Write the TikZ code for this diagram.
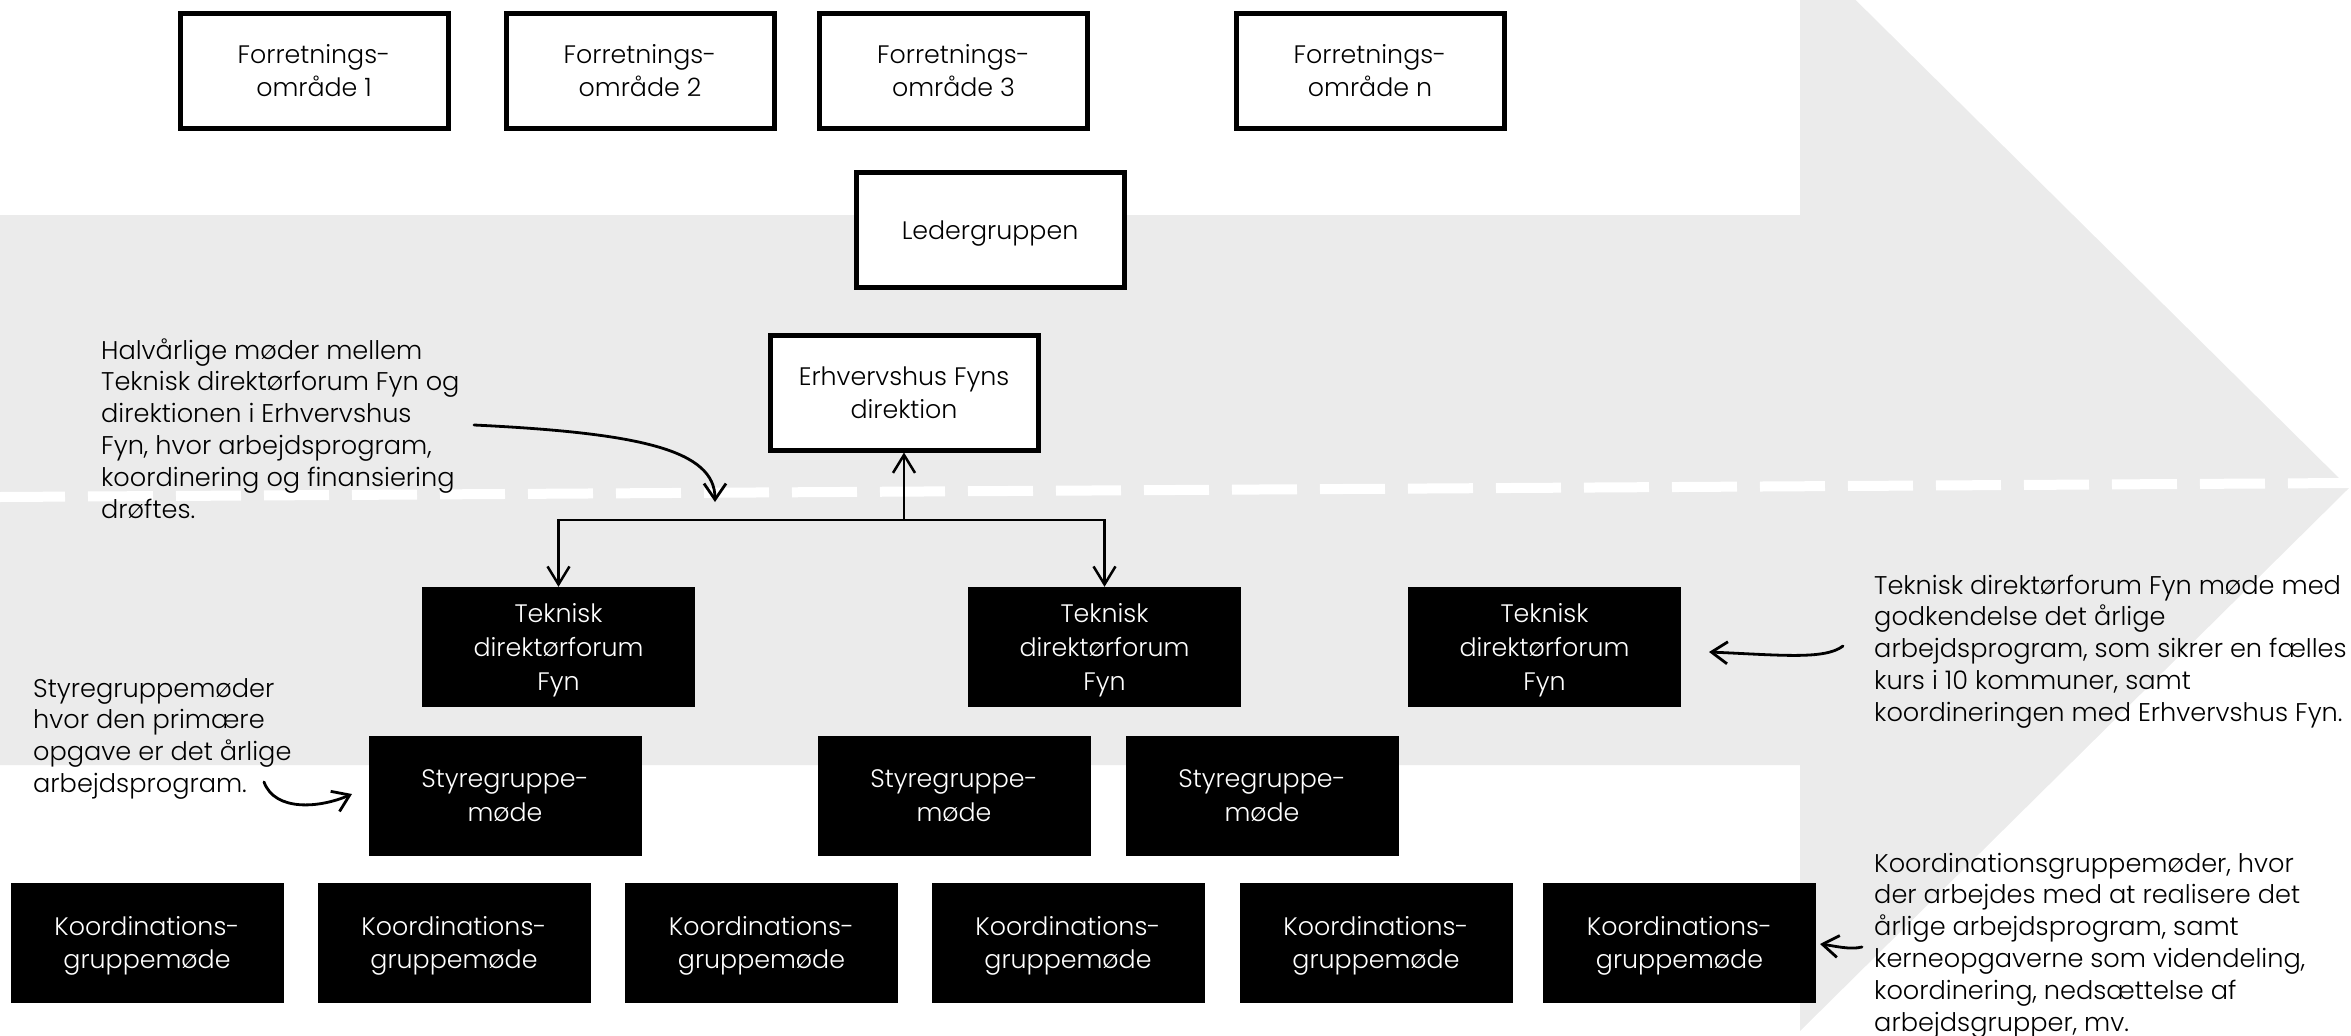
\documentclass[tikz,border=0pt]{standalone}
\usepackage{fontspec}
\IfFontExistsTF{Poppins Light}{\setmainfont{Poppins Light}}{\setmainfont{Poppins}}
\usetikzlibrary{arrows.meta}
\definecolor{bandgray}{RGB}{235,235,235}
\newcommand{\boxfnt}{\fontsize{25.3pt}{33.6pt}\selectfont}
\newcommand{\annfnt}{\fontsize{25.6pt}{31.8pt}\selectfont}
\begin{document}
\begin{tikzpicture}[x=1pt,y=-1pt,
  wbox/.style={draw=black, line width=5pt, fill=white, minimum width=268pt, minimum height=115pt, align=center, inner sep=0pt, text depth=0pt, font=\boxfnt, text=black},
  bbox/.style={fill=black, minimum width=273pt, minimum height=120pt, align=center, inner sep=0pt, text depth=0pt, font=\boxfnt, text=white},
  ann/.style={inner sep=0pt, font=\annfnt, text=black},
  conn/.style={draw=black, line width=2.5pt, -{Straight Barb[length=18pt,width=22pt]}},
  curv/.style={draw=black, line width=2.8pt, line cap=round, -{Straight Barb[length=16pt,width=22pt]}}]
\useasboundingbox (0,0) rectangle (2351,1036);
% background arrow
\begin{scope}
\clip (0,0) rectangle (2351,1036);
\fill[bandgray] (0,215) -- (1800,215) -- (1800,-55) -- (2349,488) -- (1800,1031) -- (1800,765) -- (0,765) -- cycle;
\draw[white, line width=10pt, dash pattern=on 65pt off 23pt] (0,497) -- (2349,483);
\end{scope}
% top boxes
\node[wbox] (f1) at (314,70.5) {Forretnings-\\område 1};
\node[wbox] (f2) at (640,70.5) {Forretnings-\\område 2};
\node[wbox] (f3) at (953.5,70.5) {Forretnings-\\område 3};
\node[wbox] (fn) at (1370,70.5) {Forretnings-\\område n};
\node[wbox] (led) at (990,230) {Ledergruppen};
\node[wbox] (erh) at (904,392.5) {Erhvervshus Fyns\\direktion};
% TDF
\node[bbox] (t1) at (558.5,647) {Teknisk\\direktørforum\\Fyn};
\node[bbox] (t2) at (1104.5,647) {Teknisk\\direktørforum\\Fyn};
\node[bbox] (t3) at (1544.5,647) {Teknisk\\direktørforum\\Fyn};
% Styregrupper
\node[bbox] (s1) at (505,795.5) {Styregruppe-\\møde};
\node[bbox] (s2) at (954,795.5) {Styregruppe-\\møde};
\node[bbox] (s3) at (1262,795.5) {Styregruppe-\\møde};
% Koordination
\node[bbox] (k1) at (147,942.5) {Koordinations-\\gruppemøde};
\node[bbox] (k2) at (454,942.5) {Koordinations-\\gruppemøde};
\node[bbox] (k3) at (761.5,942.5) {Koordinations-\\gruppemøde};
\node[bbox] (k4) at (1068,942.5) {Koordinations-\\gruppemøde};
\node[bbox] (k5) at (1376,942.5) {Koordinations-\\gruppemøde};
\node[bbox] (k6) at (1679.5,942.5) {Koordinations-\\gruppemøde};
% connectors
\coordinate (j) at (904,520);
\draw[conn] (j) -- (erh);
\draw[conn] (j) -| (t1);
\draw[conn] (j) -| (t2);
% annotations
\node[ann, anchor=base west] (n1) at (101,359) {\begin{tabular}[t]{@{}l@{}}Halvårlige møder mellem\\Teknisk direktørforum Fyn og\\direktionen i Erhvervshus\\Fyn, hvor arbejdsprogram,\\koordinering og finansiering\\drøftes.\end{tabular}};
\node[ann, anchor=base west] (n2) at (33,697) {\begin{tabular}[t]{@{}l@{}}Styregruppemøder\\hvor den primære\\opgave er det årlige\\arbejdsprogram.\end{tabular}};
\node[ann, anchor=base west] (n3) at (1874,594) {\begin{tabular}[t]{@{}l@{}}Teknisk direktørforum Fyn møde med\\godkendelse det årlige\\arbejdsprogram, som sikrer en fælles\\kurs i 10 kommuner, samt\\koordineringen med Erhvervshus Fyn.\end{tabular}};
\node[ann, anchor=base west] (n4) at (1874,872) {\begin{tabular}[t]{@{}l@{}}Koordinationsgruppemøder, hvor\\der arbejdes med at realisere det\\årlige arbejdsprogram, samt\\kerneopgaverne som videndeling,\\koordinering, nedsættelse af\\arbejdsgrupper, mv.\end{tabular}};
% annotation arrows
\coordinate (c1s) at (474,425); \coordinate (c1e) at (715,502);
\draw[curv] (c1s) .. controls (640,433) and (715,450) .. (c1e);
\coordinate (c2s) at (264,782); \coordinate (c2e) at (352,794);
\draw[curv] (c2s) .. controls (275,812) and (320,808) .. (c2e);
\coordinate (c3s) at (1843,646); \coordinate (c3e) at (1709,652);
\draw[curv] (c3s) .. controls (1825,660) and (1780,655) .. (c3e);
\coordinate (c4s) at (1862,947); \coordinate (c4e) at (1820,944);
\draw[curv] (c4s) .. controls (1850,950) and (1835,946) .. (c4e);
\end{tikzpicture}
\end{document}
